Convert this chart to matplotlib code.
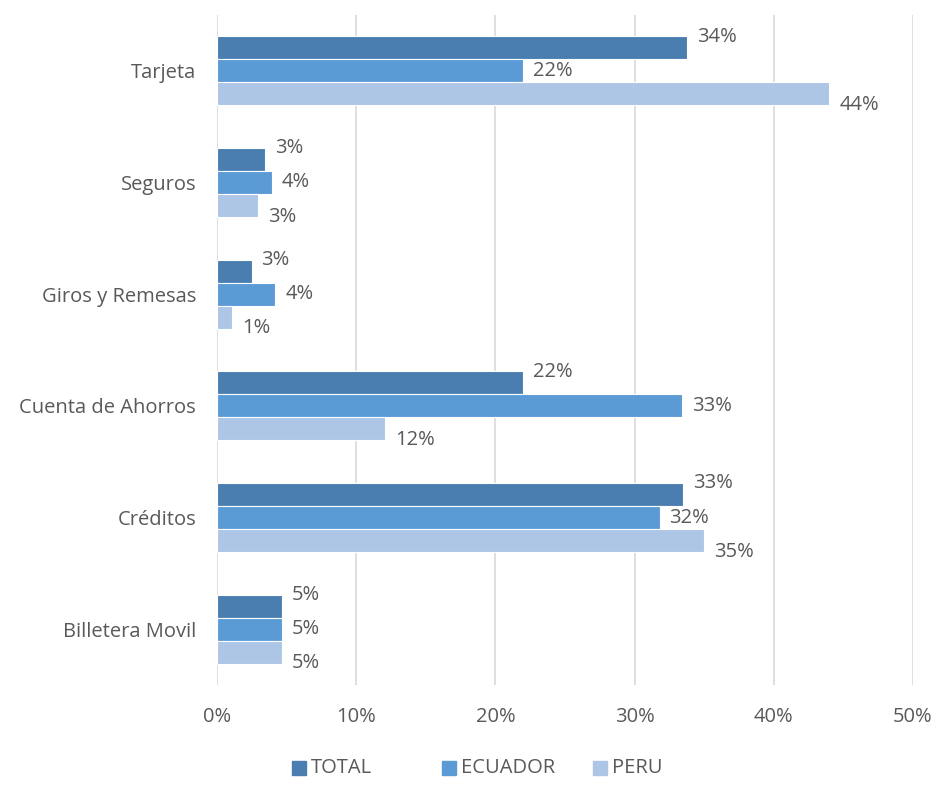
import matplotlib
matplotlib.use('Agg')
import matplotlib.pyplot as plt
import matplotlib.patches as mpatches
from matplotlib.ticker import FuncFormatter
import numpy as np

plt.rcParams['font.family'] = ['Open Sans', 'DejaVu Sans']

# datos (de abajo hacia arriba)
categorias = ["Billetera Movil", "Créditos", "Cuenta de Ahorros",
              "Giros y Remesas", "Seguros", "Tarjeta"]
total = [4.7, 33.5, 22.0, 2.5, 3.45, 33.8]
ecuador = [4.7, 31.8, 33.4, 4.2, 3.95, 22.0]
peru = [4.7, 35.0, 12.1, 1.1, 2.95, 44.0]
etiquetas_total = ["5%", "33%", "22%", "3%", "3%", "34%"]
etiquetas_ecuador = ["5%", "32%", "33%", "4%", "4%", "22%"]
etiquetas_peru = ["5%", "35%", "12%", "1%", "3%", "44%"]
series_nombres = ["TOTAL", "ECUADOR", "PERU"]

COLORES = ["#4A7EB0", "#5B9BD5", "#ADC6E6"]
TEXTO = "#595959"
FS = 14.5

fig = plt.figure(figsize=(9.36, 8.05), dpi=100)
ax = fig.add_axes([0.2318, 0.149, 0.9754 - 0.2318, 0.9814 - 0.149])

y = np.arange(len(categorias))
h = 0.206
series = [(total, etiquetas_total), (ecuador, etiquetas_ecuador), (peru, etiquetas_peru)]
offsets = [h, 0, -h]
text_dy = [0.1, 0.0, -0.1]

for (vals, labs), nombre, off, dy, col in zip(series, series_nombres, offsets, text_dy, COLORES):
    ax.barh(y + off, vals, height=h, color=col, edgecolor='white',
            linewidth=0.8, label=nombre, zorder=3)
    for yi, v, lab in zip(y, vals, labs):
        ax.text(v + 0.7, yi + off + dy, lab, ha='left', va='center',
                fontsize=FS, color=TEXTO, zorder=4)

ax.set_xlim(0, 50)
ax.set_ylim(-0.5, 5.5)
ax.set_xticks(np.arange(0, 51, 10))
ax.xaxis.set_major_formatter(FuncFormatter(lambda v, p: f"{v:.0f}%"))
ax.set_yticks(y)
ax.set_yticklabels(categorias)
ax.tick_params(axis='both', length=0, labelsize=FS, colors=TEXTO)
ax.tick_params(axis='x', pad=16)
ax.tick_params(axis='y', pad=15)
ax.grid(axis='x', color='#D9D9D9', linewidth=1.2, zorder=0)
ax.grid(axis='y', visible=False)
for s in ax.spines.values():
    s.set_visible(False)

# leyenda con paso fijo (estilo Excel)
leg_x = [292, 442, 593]
for x0, nombre, col in zip(leg_x, series_nombres, COLORES):
    fig.patches.append(mpatches.Rectangle((x0 / 936, (805 - 775) / 805), 14 / 936, 14 / 805,
                                          transform=fig.transFigure, color=col))
    fig.text((x0 + 19) / 936, (805 - 768) / 805, nombre, ha='left', va='center',
             fontsize=FS, color=TEXTO)

fig.savefig("out.png", dpi=100, facecolor='white')
